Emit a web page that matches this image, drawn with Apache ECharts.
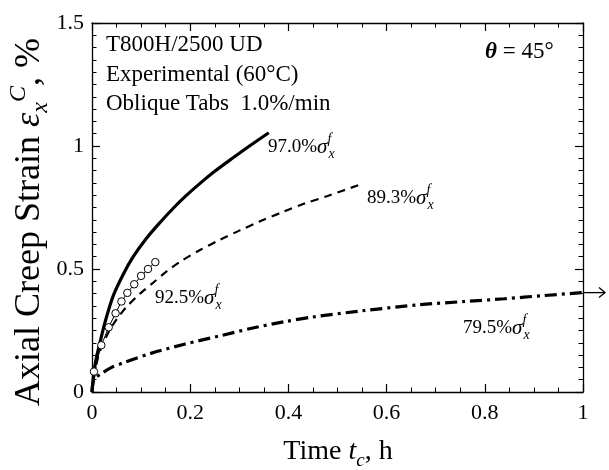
<!DOCTYPE html>
<html>
<head>
<meta charset="utf-8">
<script src="https://cdn.jsdelivr.net/npm/echarts@6/dist/echarts.min.js"></script>
<style>
  html, body { margin: 0; padding: 0; background: #fff; }
  #chart { width: 609px; height: 470px; }
</style>
</head>
<body>
<div id="chart"></div>
<script>
// Creep of T800H/2500 UD at 60 °C, theta = 45°: time (h) vs axial creep strain (%)
const t970 = [0, 0.004, 0.009, 0.015, 0.026, 0.043, 0.064, 0.084, 0.111, 0.139, 0.166, 0.19, 0.22, 0.25, 0.288, 0.32, 0.36];
const e970 = [0, 0.08, 0.14, 0.19, 0.28, 0.39, 0.48, 0.55, 0.625, 0.69, 0.748, 0.795, 0.848, 0.897, 0.953, 0.999, 1.054];

const t893 = [0, 0.006, 0.015, 0.033, 0.05, 0.07, 0.098, 0.125, 0.152, 0.18, 0.22, 0.26, 0.30, 0.34, 0.39, 0.43, 0.48, 0.55];
const e893 = [0, 0.08, 0.16, 0.24, 0.295, 0.345, 0.40, 0.445, 0.49, 0.53, 0.577, 0.618, 0.656, 0.692, 0.733, 0.764, 0.797, 0.846];

const t795 = [0, 0.004, 0.02, 0.04, 0.067, 0.12, 0.19, 0.26, 0.325, 0.393, 0.45, 0.55, 0.668, 0.76, 0.84, 0.92, 1.0];
const e795 = [0, 0.05, 0.076, 0.10, 0.121, 0.157, 0.195, 0.228, 0.259, 0.286, 0.305, 0.33, 0.355, 0.368, 0.379, 0.392, 0.404];

// measured points, 92.5% load level
const t925 = [0.004, 0.019, 0.034, 0.048, 0.060, 0.072, 0.086, 0.100, 0.114, 0.129];
const e925 = [0.083, 0.190, 0.263, 0.320, 0.368, 0.403, 0.438, 0.472, 0.500, 0.528];

const xTickLabels = ['0', '0.2', '0.4', '0.6', '0.8', '1'];
const yTickLabels = ['0', '0.5', '1', '1.5'];
const curveLabels = ['97.0%', '89.3%', '92.5%', '79.5%'];
const infoLines = ['T800H/2500 UD', 'Experimental (60°C)', 'Oblique Tabs  1.0%/min'];

const FONT = '"Liberation Serif", "Times New Roman", Times, serif';
const pairs = (xs, ys) => xs.map((x, i) => [x, ys[i]]);

function frameAxis(opts) {
  return Object.assign({
    type: 'value',
    axisLine: { show: true, onZero: false, lineStyle: { color: '#000', width: 1.3 } },
    axisTick: { show: true, inside: true, length: 8, lineStyle: { color: '#000', width: 1.2 } },
    splitLine: { show: false },
    minorSplitLine: { show: false }
  }, opts);
}

const chart = echarts.init(document.getElementById('chart'), null, { renderer: 'canvas' });

const tickFont = { color: '#000', fontFamily: FONT, fontSize: 22 };

chart.setOption({
  animation: false,
  backgroundColor: '#fff',
  grid: { left: 92, right: 26, top: 23, bottom: 78, containLabel: false },
  xAxis: [
    frameAxis({
      position: 'bottom', min: 0, max: 1, interval: 0.2,
      minorTick: { show: true, splitNumber: 4, length: 4.5, lineStyle: { color: '#000', width: 1 } },
      axisLabel: Object.assign({ margin: 10, formatter: v => xTickLabels[Math.round(v / 0.2)] }, tickFont)
    }),
    frameAxis({
      position: 'top', min: 0, max: 1, interval: 0.2,
      minorTick: { show: true, splitNumber: 4, length: 4.5, lineStyle: { color: '#000', width: 1 } },
      axisLabel: { show: false }
    })
  ],
  yAxis: [
    frameAxis({
      position: 'left', min: 0, max: 1.5, interval: 0.5,
      minorTick: { show: true, splitNumber: 10, length: 4.5, lineStyle: { color: '#000', width: 1 } },
      axisLabel: Object.assign({ margin: 8, formatter: v => yTickLabels[Math.round(v / 0.5)] }, tickFont)
    }),
    frameAxis({
      position: 'right', min: 0, max: 1.5, interval: 0.5,
      minorTick: { show: true, splitNumber: 10, length: 4.5, lineStyle: { color: '#000', width: 1 } },
      axisLabel: { show: false }
    })
  ],
  series: [
    {
      name: '97.0%', type: 'line', data: pairs(t970, e970), smooth: 0.3,
      showSymbol: false, symbol: 'none',
      lineStyle: { color: '#000', width: 3.2 }
    },
    {
      name: '89.3%', type: 'line', data: pairs(t893, e893), smooth: 0.3,
      showSymbol: false, symbol: 'none',
      lineStyle: { color: '#000', width: 2.2, type: [8, 6] }
    },
    {
      name: '79.5%', type: 'line', data: pairs(t795, e795), smooth: 0.3,
      showSymbol: false, symbol: 'none',
      lineStyle: { color: '#000', width: 3.2, type: [12, 5, 3, 5] }
    },
    {
      name: '92.5%', type: 'line', data: pairs(t925, e925), z: 5,
      symbol: 'circle', symbolSize: 7.5,
      itemStyle: { color: '#fff', borderColor: '#000', borderWidth: 1 },
      lineStyle: { color: '#000', width: 1 }
    }
  ]
});

// text styles for annotations with sub/superscripts
function sigmaRich(size) {
  const lh = Math.round(size * 1.5);
  return {
    n: { fontFamily: FONT, fontSize: size, lineHeight: lh, color: '#000' },
    g: { fontFamily: FONT, fontSize: size + 2, fontStyle: 'italic', lineHeight: lh, color: '#000' },
    sp: { fontFamily: FONT, fontSize: Math.round(size * 0.72), fontStyle: 'italic', lineHeight: 17, verticalAlign: 'top', width: 1, color: '#000' },
    sb: { fontFamily: FONT, fontSize: Math.round(size * 0.72), fontStyle: 'italic', lineHeight: 17, verticalAlign: 'bottom', color: '#000' }
  };
}
function sigmaLabel(id, txt, x, y) {
  return {
    type: 'text', id: id, x: x, y: y, z: 10,
    style: {
      text: '{n|' + txt + '}{g|σ}{sp|f}{sb|x}',
      rich: sigmaRich(19), align: 'left', verticalAlign: 'middle',
      fontFamily: FONT, fontSize: 19, fill: '#000'
    }
  };
}
function plainText(id, txt, x, y, size) {
  return {
    type: 'text', id: id, x: x, y: y, z: 10,
    style: { text: txt, fontFamily: FONT, fontSize: size, fill: '#000', align: 'left', verticalAlign: 'middle' }
  };
}

// arrow continuing the 79.5% curve beyond the time axis end
const tail = chart.convertToPixel({ xAxisIndex: 0, yAxisIndex: 0 }, [t795[t795.length - 1], e795[e795.length - 1]]);
const arrowLen = 22;

chart.setOption({
  graphic: [
    plainText('info0', infoLines[0], 106, 45, 23),
    plainText('info1', infoLines[1], 106, 75, 23),
    plainText('info2', infoLines[2], 106, 104, 23),
    {
      type: 'text', id: 'theta', x: 485, y: 52, z: 10,
      style: {
        text: '{th|θ}{n| = 45°}',
        rich: {
          th: { fontFamily: FONT, fontSize: 23, fontStyle: 'italic', fontWeight: 'bold', color: '#000' },
          n: { fontFamily: FONT, fontSize: 23, color: '#000' }
        },
        align: 'left', verticalAlign: 'middle', fill: '#000'
      }
    },
    sigmaLabel('lab970', curveLabels[0], 268, 147),
    sigmaLabel('lab893', curveLabels[1], 367, 198),
    sigmaLabel('lab925', curveLabels[2], 155, 298),
    sigmaLabel('lab795', curveLabels[3], 463, 328),
    {
      type: 'text', id: 'xname', x: 338, y: 452, z: 10,
      style: {
        text: '{n|Time }{t|t}{sb|c}{n|, h}',
        rich: {
          n: { fontFamily: FONT, fontSize: 28, lineHeight: 36, color: '#000' },
          t: { fontFamily: FONT, fontSize: 28, fontStyle: 'italic', lineHeight: 36, color: '#000' },
          sb: { fontFamily: FONT, fontSize: 19, fontStyle: 'italic', lineHeight: 19, verticalAlign: 'bottom', color: '#000' }
        },
        align: 'center', verticalAlign: 'middle', fill: '#000'
      }
    },
    {
      type: 'text', id: 'yname', x: 30, y: 222, rotation: Math.PI / 2, z: 10,
      style: {
        text: '{n|Axial Creep Strain }{e|ε}{sb|x}{sp|C}{n|, %}',
        rich: {
          n: { fontFamily: FONT, fontSize: 36, lineHeight: 46, color: '#000' },
          e: { fontFamily: FONT, fontSize: 36, fontStyle: 'italic', lineHeight: 46, color: '#000' },
          sb: { fontFamily: FONT, fontSize: 24, fontStyle: 'italic', lineHeight: 24, verticalAlign: 'bottom', color: '#000' },
          sp: { fontFamily: FONT, fontSize: 24, fontStyle: 'italic', lineHeight: 24, verticalAlign: 'top', color: '#000' }
        },
        align: 'center', verticalAlign: 'middle', fill: '#000'
      }
    },
    {
      type: 'line', id: 'arrowShaft', z: 10,
      shape: { x1: tail[0], y1: tail[1], x2: tail[0] + arrowLen, y2: tail[1] },
      style: { stroke: '#000', lineWidth: 1.3 }
    },
    {
      type: 'polyline', id: 'arrowHead', z: 10,
      shape: { points: [[tail[0] + arrowLen - 6, tail[1] - 5], [tail[0] + arrowLen, tail[1]], [tail[0] + arrowLen - 6, tail[1] + 5]] },
      style: { stroke: '#000', lineWidth: 1.3, fill: null }
    }
  ]
});
</script>
</body>
</html>
